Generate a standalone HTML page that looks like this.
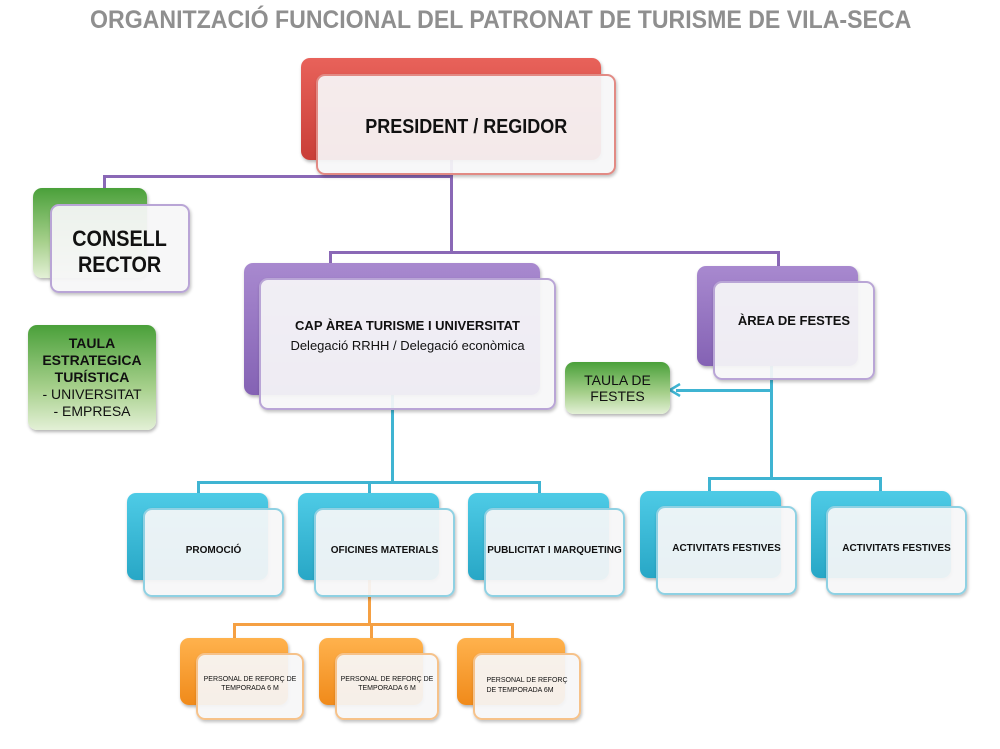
<!DOCTYPE html>
<html><head><meta charset="utf-8"><style>
body{margin:0;width:1000px;height:749px;background:#fff;position:relative;overflow:hidden;font-family:"Liberation Sans",sans-serif}
.b,.f,.g{position:absolute;box-sizing:border-box;border-radius:9px}
.f{background:rgba(246,246,248,0.93);border:2px solid;box-shadow:1px 2px 3px rgba(0,0,0,0.25);display:flex;align-items:center;justify-content:center;text-align:center;font-weight:bold;color:#111}
.b{box-shadow:1px 2px 3px rgba(0,0,0,0.3)}
.red{background:linear-gradient(#e8625a,#c93e38)}
.pur{background:linear-gradient(#a889cf,#8462b4)}
.grn{background:linear-gradient(#4aa03a,#a7d08c 60%,#e3f0d6)}
.blu{background:linear-gradient(#4ecbe6,#28a7c6)}
.org{background:linear-gradient(#ffb24d,#f08a1a)}
.l{position:absolute}
</style></head><body>
<div style="position:absolute;left:90px;top:6px;font-size:25px;font-weight:bold;color:#8f8f8f;white-space:nowrap;transform:scaleX(0.925);transform-origin:left top">ORGANITZACIÓ FUNCIONAL DEL PATRONAT DE TURISME DE VILA-SECA</div>

<!-- connectors purple -->
<div class="l" style="left:103px;top:175px;width:350px;height:3px;background:#8a68b6"></div>
<div class="l" style="left:103px;top:175px;width:3px;height:14px;background:#8a68b6"></div>
<div class="l" style="left:450px;top:160px;width:3px;height:93px;background:#8a68b6"></div>
<div class="l" style="left:329px;top:251px;width:451px;height:3px;background:#8a68b6"></div>
<div class="l" style="left:329px;top:251px;width:3px;height:13px;background:#8a68b6"></div>
<div class="l" style="left:777px;top:251px;width:3px;height:16px;background:#8a68b6"></div>
<!-- blue -->
<div class="l" style="left:391px;top:395px;width:3px;height:88px;background:#3fb4d2"></div>
<div class="l" style="left:197px;top:481px;width:344px;height:3px;background:#3fb4d2"></div>
<div class="l" style="left:197px;top:481px;width:3px;height:13px;background:#3fb4d2"></div>
<div class="l" style="left:368px;top:481px;width:3px;height:13px;background:#3fb4d2"></div>
<div class="l" style="left:538px;top:481px;width:3px;height:13px;background:#3fb4d2"></div>
<div class="l" style="left:770px;top:366px;width:3px;height:113px;background:#3fb4d2"></div>
<div class="l" style="left:708px;top:477px;width:174px;height:3px;background:#3fb4d2"></div>
<div class="l" style="left:708px;top:477px;width:3px;height:14px;background:#3fb4d2"></div>
<div class="l" style="left:879px;top:477px;width:3px;height:14px;background:#3fb4d2"></div>
<div class="l" style="left:676px;top:389px;width:96px;height:3px;background:#3fb4d2"></div>
<svg class="l" style="left:668px;top:383px" width="14" height="14"><path d="M2 7 L12 1 M2 7 L12 13" stroke="#3fb4d2" stroke-width="2.5" fill="none"/></svg>
<!-- orange -->
<div class="l" style="left:368px;top:580px;width:3px;height:45px;background:#f5a043"></div>
<div class="l" style="left:233px;top:623px;width:281px;height:3px;background:#f5a043"></div>
<div class="l" style="left:233px;top:623px;width:3px;height:15px;background:#f5a043"></div>
<div class="l" style="left:370px;top:623px;width:3px;height:15px;background:#f5a043"></div>
<div class="l" style="left:511px;top:623px;width:3px;height:15px;background:#f5a043"></div>

<!-- president -->
<div class="b red" style="left:301px;top:58px;width:300px;height:102px"></div>
<div class="f" style="left:316px;top:74px;width:300px;height:101px;border-color:#e28a84;font-size:20px;padding-top:6px"><span style="transform:scaleX(0.9);display:inline-block">PRESIDENT / REGIDOR</span></div>
<!-- consell -->
<div class="b grn" style="left:33px;top:188px;width:114px;height:90px"></div>
<div class="f" style="left:50px;top:204px;width:140px;height:89px;border-color:#b9a5d6;font-size:22px;line-height:26px;padding-top:6px;padding-right:0"><span style="transform:scaleX(0.9);display:inline-block">CONSELL<br>RECTOR</span></div>
<!-- taula estrategica -->
<div class="b grn" style="left:28px;top:325px;width:128px;height:105px;display:flex;align-items:center;justify-content:center;text-align:center;font-size:14px;line-height:17px;color:#111"><div><b>TAULA<br>ESTRATEGICA<br>TURÍSTICA</b><br>- UNIVERSITAT<br>- EMPRESA</div></div>
<!-- cap area -->
<div class="b pur" style="left:244px;top:263px;width:296px;height:132px"></div>
<div class="f" style="left:259px;top:278px;width:297px;height:132px;border-color:#b9a5d6;font-size:13px;line-height:20px;align-items:flex-start;padding-top:36px"><div>CAP ÀREA TURISME I UNIVERSITAT<br><span style="font-weight:normal">Delegació RRHH / Delegació econòmica</span></div></div>
<!-- area festes -->
<div class="b pur" style="left:697px;top:266px;width:161px;height:100px"></div>
<div class="f" style="left:713px;top:281px;width:162px;height:99px;border-color:#b9a5d6;font-size:13px;align-items:flex-start;padding-top:30px">ÀREA DE FESTES</div>
<!-- taula festes -->
<div class="b grn" style="left:565px;top:362px;width:105px;height:52px;display:flex;align-items:center;justify-content:center;text-align:center;font-size:14px;line-height:16px;color:#111">TAULA DE<br>FESTES</div>

<!-- blue row -->
<div class="b blu" style="left:127px;top:493px;width:141px;height:87px"></div>
<div class="f" style="left:143px;top:508px;width:141px;height:89px;border-color:#8fd1e3;font-size:10px;padding-bottom:4px">PROMOCIÓ</div>
<div class="b blu" style="left:298px;top:493px;width:141px;height:87px"></div>
<div class="f" style="left:314px;top:508px;width:141px;height:89px;border-color:#8fd1e3;font-size:10px;padding-bottom:4px">OFICINES MATERIALS</div>
<div class="b blu" style="left:468px;top:493px;width:141px;height:87px"></div>
<div class="f" style="left:484px;top:508px;width:141px;height:89px;border-color:#8fd1e3;font-size:10px;padding-bottom:4px;white-space:nowrap">PUBLICITAT I MARQUETING</div>
<div class="b blu" style="left:640px;top:491px;width:141px;height:87px"></div>
<div class="f" style="left:656px;top:506px;width:141px;height:89px;border-color:#8fd1e3;font-size:10px;padding-bottom:4px">ACTIVITATS FESTIVES</div>
<div class="b blu" style="left:811px;top:491px;width:140px;height:87px"></div>
<div class="f" style="left:826px;top:506px;width:141px;height:89px;border-color:#8fd1e3;font-size:10px;padding-bottom:4px">ACTIVITATS FESTIVES</div>

<!-- orange row -->
<div class="b org" style="left:180px;top:638px;width:108px;height:67px"></div>
<div class="f" style="left:196px;top:653px;width:108px;height:67px;border-color:#f6c28a;font-size:7px;font-weight:normal;line-height:9px;padding-bottom:6px">PERSONAL DE REFORÇ DE<br>TEMPORADA 6 M</div>
<div class="b org" style="left:319px;top:638px;width:104px;height:67px"></div>
<div class="f" style="left:335px;top:653px;width:104px;height:67px;border-color:#f6c28a;font-size:7px;font-weight:normal;line-height:9px;padding-bottom:6px">PERSONAL DE REFORÇ DE<br>TEMPORADA 6 M</div>
<div class="b org" style="left:457px;top:638px;width:108px;height:67px"></div>
<div class="f" style="left:473px;top:653px;width:108px;height:67px;border-color:#f6c28a;font-size:7px;font-weight:normal;line-height:10px;padding-bottom:2px;text-align:left">PERSONAL DE REFORÇ<br>DE TEMPORADA 6M</div>
</body></html>
